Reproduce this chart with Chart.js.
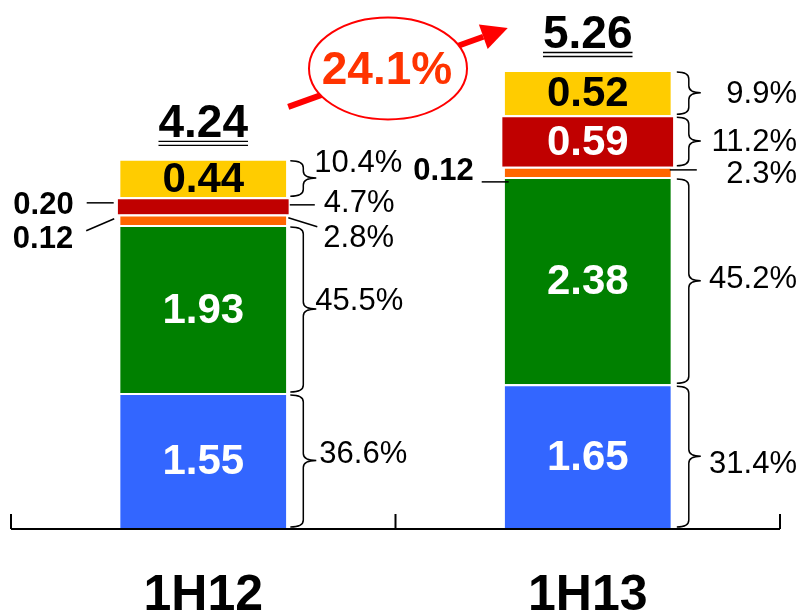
<!DOCTYPE html>
<html>
<head>
<meta charset="utf-8">
<script src="https://cdn.jsdelivr.net/npm/chart.js@4.4.1/dist/chart.umd.min.js"></script>
<style>
  html, body { margin: 0; padding: 0; background: #fff; }
  canvas { display: block; }
</style>
</head>
<body>
<canvas id="chart" width="802" height="615"></canvas>
<script>
const categories = ['1H12', '1H13'];
const blueValues = [1.55, 1.65];
const greenValues = [1.93, 2.38];
const orangeValues = [0.12, 0.12];
const redValues = [0.20, 0.59];
const yellowValues = [0.44, 0.52];
const totals = [4.24, 5.26];
const bluePct = ['36.6%', '31.4%'];
const greenPct = ['45.5%', '45.2%'];
const orangePct = ['2.8%', '2.3%'];
const redPct = ['4.7%', '11.2%'];
const yellowPct = ['10.4%', '9.9%'];
const growthLabel = '24.1%';

const FONT = '"Liberation Sans", Arial, sans-serif';
Chart.defaults.font.family = FONT;

const seriesValues = [blueValues, greenValues, orangeValues, redValues, yellowValues];
const seriesPct = [bluePct, greenPct, orangePct, redPct, yellowPct];
const seriesNames = ['Blue', 'Green', 'Orange', 'Red', 'Yellow'];
const colors = ['#3366FF', '#008000', '#FF6600', '#C00000', '#FFCC00'];
const insideText = ['#fff', '#fff', '#fff', '#fff', '#000'];

// callout offsets: key = dataset-category
const leftCallouts = {
    '3-0': { tx: -44, ty: 0, line: [-31, -3, -4, -3] },
    '2-0': { tx: -47, ty: 20, line: [-34, 11, -6, -1] },
    '2-1': { tx: -31, ty: 0, line: [-23, 10, 4, 10] }
};
const rightCallouts = {
    '0-0': { tx: 33, ty: -6 }, '1-0': { tx: 29, ty: -8 },
    '2-0': { tx: 37, ty: 19, line: [2, -2, 31, 7] },
    '3-0': { tx: 35, ty: -2, line: [1, -1, 26, -1] },
    '4-0': { tx: 28, ty: -15 },
    '0-1': { ty: 8 }, '1-1': { ty: -1 },
    '2-1': { ty: 3, line: [-1, -2, 26, -2] },
    '3-1': { ty: 1 }, '4-1': { ty: 2 }
};

function brace(ctx, x, y1, y2, w, ym) {
    const s = x + w / 2;
    const r = Math.min(7, (y2 - y1) / 5);
    ctx.beginPath();
    ctx.moveTo(x, y1);
    ctx.quadraticCurveTo(s, y1, s, y1 + r);
    ctx.lineTo(s, ym - r);
    ctx.quadraticCurveTo(s, ym, x + w, ym);
    ctx.quadraticCurveTo(s, ym, s, ym + r);
    ctx.lineTo(s, y2 - r);
    ctx.quadraticCurveTo(s, y2, x, y2);
    ctx.stroke();
}

function segment(ctx, x1, y1, x2, y2) {
    ctx.beginPath();
    ctx.moveTo(x1, y1);
    ctx.lineTo(x2, y2);
    ctx.stroke();
}

var annotate = {
    id: 'annotate',
    afterDatasetsDraw: function (chart) {
        const ctx = chart.ctx;
        const xs = chart.scales.x, ys = chart.scales.y;
        const area = chart.chartArea;
        ctx.save();

        // axis with upward tick marks
        ctx.strokeStyle = '#000';
        ctx.lineWidth = 2;
        const axisY = area.bottom + 1;
        segment(ctx, area.left, axisY, area.right, axisY);
        const ticks = [area.left, (xs.getPixelForValue(0) + xs.getPixelForValue(1)) / 2, area.right];
        ticks.forEach(function (tx) { segment(ctx, tx, axisY, tx, axisY - 15); });

        const normal = chart.getDatasetMeta(0).data;

        chart.data.datasets.forEach(function (ds, di) {
            const meta = chart.getDatasetMeta(di);
            meta.data.forEach(function (bar, i) {
                const h = bar.base - bar.y;
                const mid = (bar.y + bar.base) / 2;
                const left = bar.x - bar.width / 2;
                const right = bar.x + bar.width / 2;
                const key = di + '-' + i;
                const val = ds.data[i].toFixed(2);

                // value label
                ctx.textBaseline = 'middle';
                if (h > 30) {
                    ctx.font = 'bold 42px ' + FONT;
                    ctx.fillStyle = insideText[di];
                    ctx.textAlign = 'center';
                    ctx.fillText(val, bar.x, mid + 2);
                } else if (leftCallouts[key]) {
                    const c = leftCallouts[key];
                    ctx.font = 'bold 31px ' + FONT;
                    ctx.fillStyle = '#000';
                    ctx.textAlign = 'right';
                    ctx.fillText(val, left + c.tx, mid + c.ty);
                    ctx.lineWidth = 1.5;
                    segment(ctx, left + c.line[0], mid + c.line[1], left + c.line[2], mid + c.line[3]);
                }

                // share label on the right
                const rc = rightCallouts[key] || { ty: 0 };
                const nRight = normal[i].x + normal[i].width / 2;
                ctx.lineWidth = 1.5;
                ctx.strokeStyle = '#000';
                if (rc.line) {
                    segment(ctx, right + rc.line[0], mid + rc.line[1], right + rc.line[2], mid + rc.line[3]);
                } else if (i === 0) {
                    brace(ctx, nRight + 4, bar.y + 2, bar.base - 1, 26, mid);
                } else {
                    brace(ctx, nRight + 6, bar.y + 2, bar.base - 1, 24, mid);
                }
                ctx.font = '31px ' + FONT;
                ctx.fillStyle = '#000';
                if (i === 0) {
                    ctx.textAlign = 'left';
                    ctx.fillText(seriesPct[di][i], right + rc.tx, mid + rc.ty);
                } else {
                    ctx.textAlign = 'right';
                    ctx.fillText(seriesPct[di][i], chart.width - 5, mid + rc.ty);
                }
            });
        });

        // totals with double underline
        ctx.font = 'bold 46px ' + FONT;
        ctx.fillStyle = '#000';
        ctx.textAlign = 'center';
        ctx.textBaseline = 'alphabetic';
        totals.forEach(function (t, i) {
            const cx = normal[i].x;
            const base = ys.getPixelForValue(t) - 22;
            const label = t.toFixed(2);
            ctx.fillText(label, cx, base);
            const w = ctx.measureText(label).width;
            ctx.lineWidth = 1.3;
            segment(ctx, cx - w / 2, base + 4.5, cx + w / 2, base + 4.5);
            segment(ctx, cx - w / 2, base + 8.5, cx + w / 2, base + 8.5);
        });

        // growth arrow
        const sx = xs.getPixelForValue(0) + 85, sy = ys.getPixelForValue(totals[0]) - 52;
        const ex = xs.getPixelForValue(1) - 80, ey = ys.getPixelForValue(totals[1]) - 42;
        const ang = Math.atan2(ey - sy, ex - sx);
        const headLen = 26, headHalf = 13;
        const bx = ex - headLen * Math.cos(ang), by = ey - headLen * Math.sin(ang);
        ctx.strokeStyle = '#FF0000';
        ctx.fillStyle = '#FF0000';
        ctx.lineWidth = 6;
        segment(ctx, sx, sy, bx, by);
        ctx.beginPath();
        ctx.moveTo(ex, ey);
        ctx.lineTo(bx + headHalf * Math.sin(ang), by - headHalf * Math.cos(ang));
        ctx.lineTo(bx - headHalf * Math.sin(ang), by + headHalf * Math.cos(ang));
        ctx.closePath();
        ctx.fill();

        const ecx = (sx + ex) / 2 - 10, ecy = (sy + ey) / 2 + 1;
        ctx.beginPath();
        ctx.ellipse(ecx, ecy, 79, 51, 0, 0, Math.PI * 2);
        ctx.fillStyle = '#fff';
        ctx.fill();
        ctx.lineWidth = 2;
        ctx.stroke();
        ctx.font = 'bold 46px ' + FONT;
        ctx.fillStyle = '#FF3300';
        ctx.textAlign = 'center';
        ctx.textBaseline = 'middle';
        ctx.fillText(growthLabel, ecx - 1, ecy + 3);

        ctx.restore();
    }
};

new Chart(document.getElementById('chart'), {
    type: 'bar',
    data: {
        labels: categories,
        datasets: seriesValues.map(function (v, k) {
            return {
                label: seriesNames[k],
                data: v,
                backgroundColor: colors[k],
                borderColor: '#fff',
                borderWidth: { top: 2, bottom: 0, left: 0, right: 0 },
                borderSkipped: false,
                barPercentage: k === 3 ? 0.445 : 0.432,
                categoryPercentage: 1
            };
        })
    },
    options: {
        responsive: false,
        animation: false,
        layout: { padding: { left: 11, right: 22, top: 0, bottom: 0 } },
        plugins: {
            legend: { display: false },
            tooltip: { enabled: false }
        },
        scales: {
            x: {
                stacked: true,
                grid: { display: false, drawTicks: false },
                border: { display: false },
                ticks: { color: '#000', font: { size: 50, weight: 'bold' }, padding: 38 },
                afterFit: function (s) { s.height = 87; }
            },
            y: { stacked: true, display: false, min: 0, max: 6.064 }
        }
    },
    plugins: [annotate]
});
</script>
</body>
</html>
